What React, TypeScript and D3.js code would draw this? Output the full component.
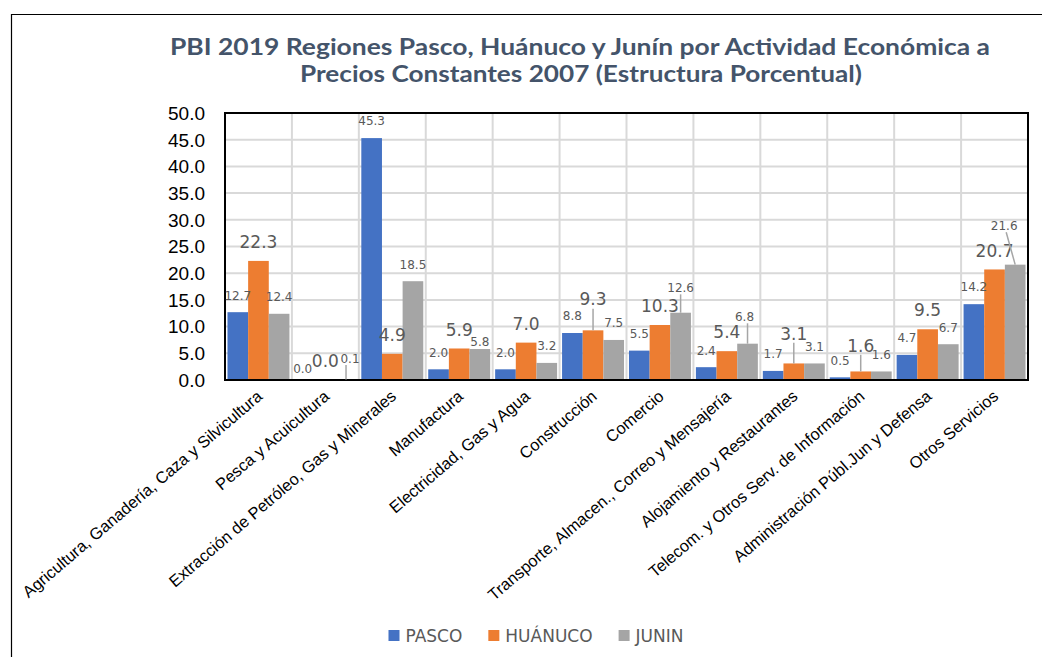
import React from "react";
import * as d3 from "d3";

const categories = [
  "Agricultura, Ganadería, Caza y Silvicultura",
  "Pesca y Acuicultura",
  "Extracción de Petróleo, Gas y Minerales",
  "Manufactura",
  "Electricidad, Gas y Agua",
  "Construcción",
  "Comercio",
  "Transporte, Almacen., Correo y Mensajería",
  "Alojamiento y Restaurantes",
  "Telecom. y Otros Serv. de Información",
  "Administración Públ.Jun y Defensa",
  "Otros Servicios",
];
const seriesNames = ["PASCO", "HUÁNUCO", "JUNIN"];
const pasco = [12.7, 0.0, 45.3, 2.0, 2.0, 8.8, 5.5, 2.4, 1.7, 0.5, 4.7, 14.2];
const huanuco = [22.3, 0.0, 4.9, 5.9, 7.0, 9.3, 10.3, 5.4, 3.1, 1.6, 9.5, 20.7];
const junin = [12.4, 0.1, 18.5, 5.8, 3.2, 7.5, 12.6, 6.8, 3.1, 1.6, 6.7, 21.6];
const yTicks = [0, 5, 10, 15, 20, 25, 30, 35, 40, 45, 50];
const titleLines = [
  "PBI 2019 Regiones Pasco, Huánuco y Junín por Actividad Económica a",
  "Precios Constantes 2007 (Estructura Porcentual)",
];

const colors = ["#4472C4", "#ED7D31", "#A5A5A5"];

// label placement tweaks (Excel moved labels): key = "cat|series"
const labelLift: Record<string, { lift: number; dx?: number; leader?: boolean }> = {
  "1|0": { lift: 11, dx: -2 },
  "1|1": { lift: 19, dx: 0 },
  "1|2": { lift: 21, leader: true, dx: 4 },
  "3|2": { lift: 7 },
  "5|1": { lift: 31, leader: true },
  "6|2": { lift: 25, leader: true },
  "7|2": { lift: 27, leader: true, dx: -3 },
  "8|1": { lift: 30, leader: true },
  "9|1": { lift: 26, leader: true },
  "10|1": { lift: 19 },
  "11|2": { lift: 39, leader: true, dx: -11 },
};

const W = 1042;
const H = 657;
const plot = { left: 225, right: 1028, top: 113, bottom: 380 };

export default function App() {
  const values = [pasco, huanuco, junin];
  const x = d3.scaleBand<string>().domain(categories).range([plot.left, plot.right]).padding(0);
  const xs = d3
    .scaleBand<string>()
    .domain(seriesNames)
    .range([0, x.bandwidth()])
    .paddingInner(0)
    .paddingOuter(0.12);
  const y = d3.scaleLinear().domain([0, 50]).range([plot.bottom, plot.top]);

  const smallFont = 12;
  const bigFont = 17;

  // legend layout
  const legendFont = 17;
  const legendFamily = '"DejaVu Sans", sans-serif';
  const measure = (t: string, font: string) => {
    const c = document.createElement("canvas").getContext("2d");
    if (!c) return t.length * 10;
    c.font = font;
    return c.measureText(t).width;
  };
  const sq = 11;
  const gapSq = 6;
  const gapItem = 26;
  const widths = seriesNames.map((s) => measure(s, `${legendFont}px ${legendFamily}`));
  const totalLegend = widths.reduce((a, w) => a + sq + gapSq + w, 0) + gapItem * (seriesNames.length - 1);
  let lx = 536 - totalLegend / 2;
  const legendItems = seriesNames.map((s, i) => {
    const item = { s, x: lx, i };
    lx += sq + gapSq + widths[i] + gapItem;
    return item;
  });

  return (
    <svg
      width={W}
      height={H}
      style={{ position: "absolute", left: 0, top: 0, background: "#fff" }}
      fontFamily='"Liberation Sans", Arial, sans-serif'
    >
      <rect x={0} y={0} width={W} height={H} fill="#fff" />
      {/* outer frame */}
      <path d={`M11.5,${H} V14.5 H${W}`} fill="none" stroke="#000" strokeWidth={1.2} />

      {/* title */}
      {titleLines.map((t, i) => (
        <text
          key={i}
          x={[580, 581][i]}
          y={[55, 82][i]}
          textAnchor="middle"
          fontFamily="Lato, 'Open Sans', sans-serif"
          fontWeight="bold"
          fontSize={22}
          fill="#44546A"
          textLength={[820, 562][i]}
          lengthAdjust="spacingAndGlyphs"
        >
          {t}
        </text>
      ))}

      {/* gridlines */}
      {yTicks.map((t) => (
        <line key={"h" + t} x1={plot.left} x2={plot.right} y1={y(t)} y2={y(t)} stroke="#D9D9D9" strokeWidth={2} />
      ))}
      {categories.map((c) => (
        <line key={"v" + c} x1={x(c)!} x2={x(c)!} y1={plot.top} y2={plot.bottom} stroke="#D9D9D9" strokeWidth={2} />
      ))}

      {/* bars */}
      {seriesNames.map((s, si) =>
        categories.map((c, ci) => {
          const v = values[si][ci];
          return (
            <rect
              key={s + c}
              x={x(c)! + xs(s)!}
              y={y(v)}
              width={xs.bandwidth()}
              height={y(0) - y(v)}
              fill={colors[si]}
            />
          );
        })
      )}

      {/* plot border */}
      <rect
        x={plot.left}
        y={plot.top}
        width={plot.right - plot.left}
        height={plot.bottom - plot.top}
        fill="none"
        stroke="#000"
        strokeWidth={2}
      />

      {/* y tick labels */}
      {yTicks.map((t) => (
        <text key={"yt" + t} x={205} y={y(t)} dy="0.36em" textAnchor="end" fontSize={19} fill="#000">
          {t.toFixed(1)}
        </text>
      ))}

      {/* data labels */}
      {seriesNames.map((s, si) =>
        categories.map((c, ci) => {
          const v = values[si][ci];
          const big = si === 1;
          const fs = big ? bigFont : smallFont;
          const cx = x(c)! + xs(s)! + xs.bandwidth() / 2;
          const tweak = labelLift[`${ci}|${si}`];
          const lift = tweak ? tweak.lift : big ? 19 : 17;
          const lxp = cx + (tweak?.dx ?? 0);
          const ly = y(v) - lift;
          return (
            <g key={"l" + s + c}>
              {tweak?.leader && (
                <line
                  x1={tweak.dx && tweak.dx < -5 ? lxp + 2 : cx}
                  y1={ly + fs * 0.55}
                  x2={cx}
                  y2={y(v)}
                  stroke="#A6A6A6"
                  strokeWidth={1.5}
                />
              )}
              <text
                x={lxp}
                y={ly}
                dy="0.36em"
                textAnchor="middle"
                fontFamily="'DejaVu Sans', sans-serif"
                fontSize={fs}
                fill="#595959"
              >
                {v.toFixed(1)}
              </text>
            </g>
          );
        })
      )}

      {/* x labels */}
      {categories.map((c) => {
        const cx = x(c)! + x.bandwidth() / 2 + 5;
        const cy = 398;
        return (
          <text
            key={"xl" + c}
            transform={`translate(${cx},${cy}) rotate(-40.5)`}
            textAnchor="end"
            fontSize={16.4}
            fill="#000"
          >
            {c}
          </text>
        );
      })}

      {/* legend */}
      {legendItems.map((it) => (
        <g key={"lg" + it.s}>
          <rect x={it.x} y={630} width={sq} height={sq} fill={colors[it.i]} />
          <text x={it.x + sq + gapSq} y={642} fontSize={legendFont} fontFamily={legendFamily} fill="#595959">
            {it.s}
          </text>
        </g>
      ))}
    </svg>
  );
}
